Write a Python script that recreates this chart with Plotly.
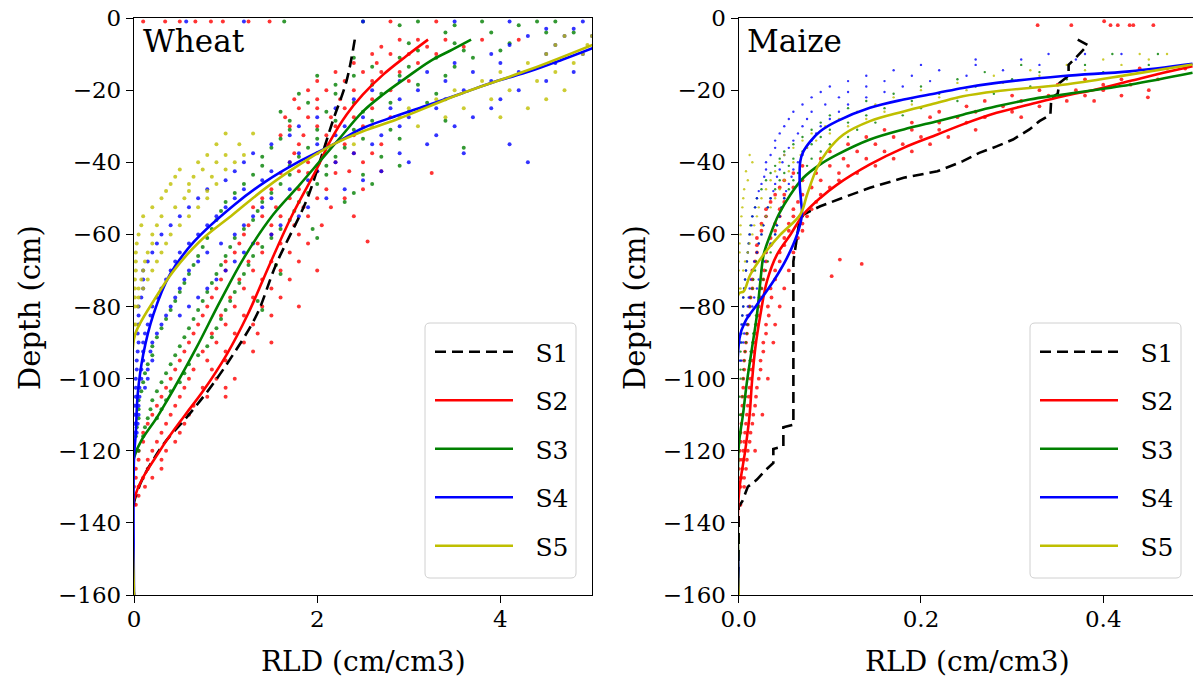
import plotly.graph_objects as go

FONT = "DejaVu Serif"
RED, GREEN, BLUE, OLIVE, BLACK = "#ff0000", "#008000", "#0000ff", "#bfbf00", "#000000"

# ---------------- Wheat: fitted profiles (depth cm, RLD cm/cm3) ----------------
wheat_s1_depth = [-6, -17.5, -28.6, -39.7, -50.8, -68.4, -82.3, -93.4, -102.6, -110, -119.7, -134.4, -160]
wheat_s1_rld = [2.41, 2.32, 2.17, 2.03, 1.88, 1.55, 1.34, 1.08, 0.83, 0.6, 0.28, 0.0, 0.0]
wheat_s2_depth = [-6, -10.6, -15.7, -21.2, -26.8, -34.2, -41.6, -54.5, -68.4, -82.3, -93.4, -103.6, -110, -119.7, -133.6, -160]
wheat_s2_rld = [3.21, 2.97, 2.72, 2.50, 2.32, 2.14, 2.0, 1.73, 1.48, 1.24, 1.01, 0.75, 0.56, 0.29, 0.0, 0.0]
wheat_s3_depth = [-6, -8.7, -12, -16.6, -21.2, -25.9, -33.2, -39.7, -46.2, -54.5, -66.5, -78.6, -91.5, -102.6, -110, -122, -160]
wheat_s3_rld = [3.68, 3.48, 3.23, 2.97, 2.72, 2.50, 2.25, 2.03, 1.81, 1.52, 1.20, 0.94, 0.68, 0.44, 0.27, 0.0, 0.0]
wheat_s4_depth = [-8.3, -11.5, -14.8, -17.5, -20.8, -24, -27.2, -30.5, -35.1, -39.7, -45.3, -51.7, -61.9, -71.2, -82.3, -93.4, -104.5, -115, -122, -160]
wheat_s4_rld = [5.01, 4.68, 4.32, 3.96, 3.59, 3.23, 2.86, 2.50, 2.17, 1.81, 1.44, 1.10, 0.66, 0.39, 0.21, 0.10, 0.04, 0.02, 0.0, 0.0]
wheat_s5_depth = [-7.4, -14.3, -20.8, -28.2, -31.4, -35.1, -40.6, -47.1, -54.5, -61.9, -70.2, -78.6, -85, -89, -160]
wheat_s5_rld = [5.01, 4.32, 3.59, 2.86, 2.50, 2.17, 1.81, 1.44, 1.08, 0.72, 0.43, 0.21, 0.06, 0.0, 0.0]

# ---------------- Maize: fitted profiles ----------------
maize_s1_depth = [-6, -7.5, -11, -13, -16, -18, -21, -22.1, -26.8, -28.6, -30.9, -33.7, -35.6, -37.4, -39.7, -42.5,
                  -44.3, -47.1, -49.4, -52.2, -54.5, -57.3, -67.5, -112.8, -113.5, -118.8, -119.5, -123.4, -125.5,
                  -128, -130, -134, -135.5, -160]
maize_s1_rld = [0.372, 0.383, 0.370, 0.362, 0.362, 0.352, 0.350, 0.343, 0.342, 0.330, 0.319, 0.301, 0.283, 0.264,
                0.246, 0.218, 0.181, 0.144, 0.119, 0.0895, 0.071, 0.066, 0.060, 0.060, 0.049, 0.049, 0.038, 0.038,
                0.029, 0.020, 0.010, 0.004, 0.0, 0.0]
maize_s2_depth = [-13.4, -15.2, -17.5, -19.8, -21.7, -24, -26.3, -29.5, -32.3, -36, -40.6, -46.2, -49.9, -54.5, -60.1,
                  -65.6, -73, -82.3, -91.5, -100.8, -110, -119.7, -132.7, -160]
maize_s2_rld = [0.498, 0.466, 0.429, 0.392, 0.356, 0.319, 0.283, 0.246, 0.218, 0.181, 0.144, 0.108, 0.0895, 0.071,
                0.0567, 0.042, 0.031, 0.0238, 0.0182, 0.0146, 0.012, 0.0073, 0.0, 0.0]
maize_s3_depth = [-15.2, -18.5, -21.2, -22.6, -24.5, -26.8, -28.6, -30.9, -33.7, -37.9, -40.6, -44.3, -49, -54.5, -60.1,
                  -65.6, -73, -82.3, -91.5, -100.8, -110, -119, -160]
maize_s3_rld = [0.498, 0.429, 0.356, 0.319, 0.283, 0.246, 0.218, 0.181, 0.144, 0.108, 0.0895, 0.071, 0.0567, 0.0439,
                0.0347, 0.0274, 0.0238, 0.020, 0.0146, 0.0091, 0.0047, 0.0, 0.0]
maize_s4_depth = [-12.7, -14.8, -16.1, -18, -19.4, -20.8, -22.6, -24.9, -28.6, -31.4, -34.2, -37, -39.7, -45.3, -50.8,
                  -54.5, -60.1, -66.5, -73, -79.5, -84.1, -88.7, -160]
maize_s4_rld = [0.498, 0.429, 0.356, 0.283, 0.246, 0.218, 0.181, 0.144, 0.108, 0.0895, 0.0786, 0.071, 0.0676, 0.0669,
                0.0684, 0.0694, 0.064, 0.053, 0.038, 0.020, 0.0073, 0.001, 0.0]
maize_s5_depth = [-12.9, -15.7, -18.5, -20.3, -21.7, -23.5, -25.9, -28.6, -32.3, -37, -41.6, -49, -54.5, -60.1, -65.6,
                  -71.2, -75.8, -76.5, -160]
maize_s5_rld = [0.498, 0.429, 0.356, 0.283, 0.246, 0.218, 0.181, 0.144, 0.115, 0.0969, 0.0859, 0.075, 0.0676, 0.0457,
                0.0274, 0.0127, 0.0055, 0.0, 0.0]

# ---------------- Observations (depth, RLD values read at that depth) ----------------
wheat_s2_obs = [
    (-1, [0.1, 0.34, 0.5, 0.67, 0.84, 0.97, 1.25, 1.48, 2.8, 3.3]), (-6, [2.9, 3.1, 3.4, 3.8, 4.2]),
    (-8, [2.7, 3.2, 3.6]), (-10, [2.6, 2.8, 3.0, 3.3]), (-12.5, [2.4, 2.65, 3.1]), (-15, [2.2, 2.5, 2.7, 2.9]),
    (-17.5, [2.0, 2.3, 2.6, 3.0]), (-20, [1.9, 2.1, 2.4, 2.8]), (-22.5, [1.75, 2.0, 2.25, 2.6]),
    (-25, [1.8, 2.0, 2.3, 2.6]), (-27.5, [1.65, 1.9, 2.15, 2.4, 2.8]), (-30, [1.7, 2.0, 2.2, 2.5]),
    (-32.5, [1.6, 1.85, 2.1, 2.4]), (-35, [1.8, 2.1, 2.3, 2.7]), (-37.5, [1.75, 2.0, 2.4, 2.6]),
    (-40, [1.7, 1.9, 2.2, 2.5]), (-42.5, [1.8, 2.0, 2.35, 2.7]), (-43, [1.6, 1.9, 2.2, 3.25]),
    (-47.5, [1.5, 1.8, 2.1, 2.5]), (-50, [1.4, 1.7, 2.0, 2.3]), (-52.5, [1.3, 1.55, 1.85, 2.15]),
    (-55, [1.4, 1.6, 1.9, 2.4]), (-57.5, [1.25, 1.5, 1.75, 2.05]), (-60, [1.2, 1.5, 1.8]), (-62, [2.55]),
    (-62.5, [1.15, 1.35, 1.6, 1.9]), (-65, [1.1, 1.4, 1.7]), (-67.5, [1.0, 1.25, 1.5, 1.8]),
    (-70, [1.0, 1.3, 1.6, 2.0]), (-72.5, [0.95, 1.15, 1.4, 1.7]), (-75, [0.9, 1.2, 1.5]),
    (-77.5, [0.85, 1.05, 1.3, 1.6]), (-80, [0.8, 1.1, 1.4, 1.8]), (-82.5, [0.75, 0.95, 1.2, 1.5]),
    (-85, [0.7, 1.0, 1.3]), (-87.5, [0.65, 0.85, 1.1, 1.35]), (-90, [0.6, 0.9, 1.2, 1.5]),
    (-92.5, [0.55, 0.75, 1.0, 1.3]), (-95, [0.5, 0.8, 1.0]), (-97.5, [0.45, 0.65, 0.85]),
    (-100, [0.4, 0.6, 0.9, 1.1]), (-102.5, [0.35, 0.55, 0.75, 1.0]), (-105, [0.3, 0.5, 0.8, 1.0]),
    (-107.5, [0.25, 0.45, 0.65]), (-110, [0.2, 0.4, 0.6]), (-112.5, [0.15, 0.35, 0.55]), (-115, [0.1, 0.3, 0.5]),
    (-117.5, [0.1, 0.25, 0.45]), (-120, [0.05, 0.2, 0.35]), (-122.5, [0.05, 0.15, 0.3]), (-125, [0.02, 0.15, 0.3]),
    (-127.5, [0.02, 0.1, 0.2]), (-130, [0.0, 0.05, 0.12]), (-132.5, [0.0, 0.05]), (-135, [0.0, 0.02]),
]
wheat_s3_obs = [
    (-1, [1.64, 2.5, 3.1, 3.8, 4.4, 4.6]), (-2, [2.9, 3.5, 4.2]), (-4, [3.4, 3.9, 4.5, 4.8]), (-7, [3.0, 3.5, 4.1]),
    (-9, [3.1, 3.6, 4.0]), (-11, [2.4, 2.9, 3.3, 3.7]), (-13.5, [2.6, 3.0, 3.5]), (-16, [2.0, 2.4, 2.9, 3.4]),
    (-18.5, [2.2, 2.6, 3.1]), (-21, [1.8, 2.2, 2.7, 3.3]), (-23.5, [1.9, 2.4, 2.8, 3.2]),
    (-26, [1.6, 2.1, 2.5, 3.0]), (-28.5, [1.7, 2.2, 2.6, 3.4]), (-31, [1.7, 2.0, 2.4, 2.8]),
    (-33.5, [1.6, 2.0, 2.5, 2.9]), (-36, [1.5, 1.9, 2.3, 3.6]), (-38.5, [1.4, 1.8, 2.2, 2.7]),
    (-41, [1.4, 1.7, 2.1, 2.9]), (-43.5, [1.3, 1.7, 2.1, 2.5]), (-46, [1.2, 1.6, 2.0, 2.6]),
    (-48.5, [1.1, 1.5, 1.9, 2.4]), (-51, [1.0, 1.4, 1.8, 2.3]), (-53.5, [0.95, 1.35, 1.75]), (-56, [0.9, 1.3, 1.7]),
    (-58.5, [0.85, 1.2, 1.6, 1.95]), (-61, [0.8, 1.1, 1.5, 2.0]), (-63.5, [0.75, 1.05, 1.4]), (-66, [0.7, 1.0, 1.3]),
    (-68.5, [0.65, 0.95, 1.25, 1.55]), (-71, [0.6, 0.9, 1.2, 1.6]), (-73.5, [0.55, 0.85, 1.15]),
    (-76, [0.5, 0.8, 1.1]), (-78.5, [0.45, 0.75, 1.05, 1.35]), (-81, [0.4, 0.7, 1.0, 1.4]),
    (-83.5, [0.35, 0.65, 0.95]), (-86, [0.3, 0.6, 0.9]), (-88.5, [0.25, 0.55, 0.85]), (-91, [0.2, 0.5, 0.8]),
    (-93.5, [0.2, 0.45, 0.7]), (-96, [0.15, 0.4, 0.6]), (-98.5, [0.12, 0.35, 0.55]), (-101, [0.1, 0.3, 0.5]),
    (-103.5, [0.08, 0.25, 0.4]), (-106, [0.05, 0.2, 0.35]), (-108.5, [0.05, 0.18, 0.3]), (-111, [0.05, 0.15, 0.25]),
    (-113.5, [0.03, 0.12]), (-116, [0.02, 0.1]), (-120, [0.0, 0.05]),
]
wheat_s4_obs = [
    (-1, [0.57, 1.2, 2.5, 3.5, 4.1, 4.9]), (-3, [4.5, 4.8]), (-5, [4.3, 4.7, 5.0]), (-7.5, [4.1, 4.6]),
    (-10, [3.9, 4.5, 4.9]), (-12.5, [3.5, 4.0, 4.6]), (-15, [3.2, 3.7, 4.2, 4.8]), (-17.5, [2.9, 3.4, 3.9, 4.5]),
    (-20, [2.6, 3.1, 3.6, 4.2]), (-22.5, [2.4, 2.9, 3.4, 4.0]), (-25, [2.2, 2.8, 3.3, 3.9]),
    (-27.5, [2.0, 2.5, 3.0, 3.7]), (-30, [1.8, 2.3, 2.9, 3.5]), (-32.5, [1.7, 2.2, 2.7, 3.3]),
    (-35, [1.5, 2.0, 2.6, 3.2, 4.1]), (-37.5, [1.3, 1.8, 2.4, 2.9, 3.6]), (-40, [1.2, 1.7, 2.2, 3.0, 4.3]),
    (-42.5, [1.1, 1.5, 2.0, 2.7]), (-45, [1.0, 1.4, 1.9, 2.5]), (-47.5, [0.8, 1.2, 1.7, 2.3]),
    (-50, [0.7, 1.1, 1.5, 2.1]), (-52.5, [0.6, 1.0, 1.4, 1.9]), (-55, [0.5, 0.9, 1.3, 1.8]),
    (-57.5, [0.4, 0.8, 1.2, 1.6]), (-60, [0.3, 0.7, 1.1, 1.5]), (-62.5, [0.25, 0.6, 0.95, 1.3]),
    (-65, [0.2, 0.5, 0.8, 1.2]), (-67.5, [0.15, 0.45, 0.7, 1.1]), (-70, [0.1, 0.4, 0.6, 1.0]),
    (-72.5, [0.1, 0.35, 0.55, 0.9]), (-75, [0.1, 0.3, 0.5, 0.8]), (-77.5, [0.08, 0.25, 0.45, 0.7]),
    (-80, [0.05, 0.2, 0.4, 0.6]), (-82.5, [0.05, 0.18, 0.35, 0.5]), (-85, [0.05, 0.15, 0.3]),
    (-87.5, [0.04, 0.12, 0.25]), (-90, [0.05, 0.1, 0.2]), (-92.5, [0.04, 0.1, 0.18]), (-95, [0.03, 0.1, 0.2]),
    (-97.5, [0.03, 0.08, 0.15]), (-100, [0.02, 0.08, 0.15]), (-102.5, [0.02, 0.06, 0.12]), (-105, [0.02, 0.06]),
    (-107.5, [0.01, 0.05]), (-110, [0.01, 0.05]), (-112.5, [0.01, 0.04]), (-115, [0.01, 0.03]),
]
wheat_s5_obs = [
    (-5, [4.7, 5.0]), (-7.5, [4.6, 4.95]), (-10, [4.5, 4.9]), (-12.5, [4.3, 4.8]), (-15, [4.0, 4.6]),
    (-17.5, [3.8, 4.4]), (-20, [3.5, 4.1, 4.7]), (-22.5, [3.3, 3.9, 4.5]), (-25, [3.0, 3.6, 4.3]),
    (-27.5, [2.9, 3.4, 4.0]), (-30, [2.6, 3.1]), (-32, [1.0, 1.3]), (-35, [0.9, 1.15, 2.4]), (-38, [0.8, 1.0, 1.2]),
    (-40, [0.7, 0.9, 1.1]), (-42, [0.5, 0.75, 1.0]), (-44, [0.45, 0.65, 0.85]), (-46, [0.4, 0.6, 0.9]),
    (-48, [0.35, 0.6, 0.8]), (-50, [0.3, 0.55, 0.8]), (-52.5, [0.2, 0.45, 0.7]), (-55, [0.1, 0.3, 0.6]),
    (-57.5, [0.08, 0.25, 0.5]), (-60, [0.05, 0.2, 0.4]), (-62.5, [0.03, 0.2, 0.35]), (-65, [0.02, 0.15, 0.3]),
    (-67.5, [0.02, 0.12, 0.25]), (-70, [0.02, 0.1, 0.2]), (-72.5, [0.01, 0.08, 0.15]), (-75, [0.01, 0.05, 0.1]),
    (-77.5, [0.01, 0.05]), (-80, [0.01, 0.04]), (-85, [0.0, 0.02]),
]
maize_s2_obs = [
    (-0.9, [0.401]), (-2, [0.328, 0.365, 0.408, 0.416, 0.429, 0.433, 0.455]), (-14, [0.44, 0.47, 0.49]),
    (-17, [0.38, 0.42, 0.46]), (-18.5, [0.35, 0.40, 0.43]), (-20, [0.33, 0.37, 0.40, 0.45]),
    (-21.5, [0.30, 0.34, 0.38, 0.42]), (-22, [0.449]), (-23, [0.27, 0.31, 0.36, 0.39]),
    (-24.5, [0.25, 0.29, 0.33]), (-26, [0.22, 0.26, 0.30]), (-27.5, [0.21, 0.24, 0.27, 0.31]),
    (-29, [0.19, 0.22, 0.25]), (-31, [0.16, 0.19, 0.22, 0.26]), (-33, [0.14, 0.17, 0.20, 0.23]),
    (-35, [0.12, 0.15, 0.18, 0.21]), (-37, [0.10, 0.13, 0.16, 0.19]), (-39, [0.09, 0.115, 0.14, 0.17]),
    (-41, [0.07, 0.10, 0.12, 0.15]), (-43, [0.06, 0.085, 0.11, 0.13]), (-45, [0.05, 0.07, 0.09, 0.11]),
    (-47, [0.045, 0.06, 0.08, 0.1]), (-49, [0.04, 0.05, 0.07, 0.09]), (-51, [0.035, 0.05, 0.065, 0.085]),
    (-53, [0.03, 0.045, 0.06, 0.08]), (-55, [0.03, 0.045, 0.06, 0.075]), (-57, [0.025, 0.04, 0.055, 0.07]),
    (-59, [0.025, 0.04, 0.055, 0.07]), (-61, [0.02, 0.035, 0.05, 0.065]), (-63, [0.02, 0.035, 0.05]),
    (-65, [0.02, 0.03, 0.045, 0.06]), (-67, [0.111]), (-67.5, [0.018, 0.03, 0.045]), (-68.2, [0.135]),
    (-70, [0.015, 0.028, 0.04, 0.055]), (-71.6, [0.102]), (-72.5, [0.015, 0.027, 0.04]),
    (-75, [0.015, 0.025, 0.035, 0.05]), (-77.5, [0.013, 0.024, 0.036]), (-80, [0.012, 0.022, 0.032, 0.045]),
    (-82.5, [0.011, 0.021, 0.033]), (-85, [0.01, 0.02, 0.03, 0.04]), (-87.5, [0.009, 0.019, 0.03]),
    (-90, [0.008, 0.018, 0.027, 0.038]), (-92.5, [0.007, 0.016, 0.027]), (-95, [0.006, 0.015, 0.024]),
    (-97.5, [0.006, 0.014, 0.024]), (-100, [0.005, 0.013, 0.022, 0.032]), (-102.5, [0.005, 0.012, 0.02]),
    (-105, [0.004, 0.011, 0.019]), (-107.5, [0.004, 0.01, 0.018]), (-110, [0.003, 0.009, 0.016, 0.026]),
    (-112.5, [0.003, 0.008, 0.015]), (-115, [0.002, 0.007, 0.013]), (-117.5, [0.002, 0.006, 0.012]),
    (-120, [0.001, 0.005, 0.01, 0.018]), (-122.5, [0.001, 0.004, 0.009]), (-125, [0.0, 0.004, 0.008]),
    (-127.5, [0.0, 0.003, 0.006]), (-130, [0.0, 0.002, 0.006]), (-135, [0.0, 0.002]),
]
maize_s3_obs = [
    (-10, [0.41, 0.46]), (-13, [0.31, 0.38, 0.45]), (-15, [0.27, 0.33, 0.4]), (-17, [0.24, 0.30, 0.36]),
    (-19, [0.2, 0.26, 0.32]), (-21, [0.17, 0.22, 0.28]), (-23, [0.14, 0.19, 0.24]), (-25, [0.12, 0.16, 0.20]),
    (-27, [0.1, 0.14, 0.18]), (-29, [0.09, 0.12, 0.15]), (-31, [0.08, 0.1, 0.13]), (-33, [0.07, 0.09, 0.12]),
    (-35, [0.06, 0.08, 0.1]), (-37, [0.05, 0.07, 0.09]), (-39, [0.045, 0.06, 0.08]), (-41, [0.04, 0.055, 0.075]),
    (-43, [0.035, 0.05, 0.065]), (-45, [0.03, 0.045, 0.06]), (-47.5, [0.025, 0.04, 0.055]),
    (-50, [0.02, 0.035, 0.05]), (-52.5, [0.018, 0.032, 0.047]), (-55, [0.015, 0.03, 0.045]),
    (-57.5, [0.013, 0.027, 0.042]), (-60, [0.012, 0.025, 0.04]), (-62.5, [0.011, 0.022, 0.037]),
    (-65, [0.01, 0.02, 0.035]), (-67.5, [0.009, 0.019, 0.032]), (-70, [0.008, 0.018, 0.03]),
    (-72.5, [0.007, 0.016, 0.027]), (-75, [0.006, 0.015, 0.025]), (-77.5, [0.005, 0.013, 0.022]),
    (-80, [0.005, 0.012, 0.02]), (-82.5, [0.004, 0.011, 0.019]), (-85, [0.004, 0.01, 0.018]),
    (-87.5, [0.003, 0.009, 0.016]), (-90, [0.003, 0.008, 0.015]), (-92.5, [0.002, 0.007, 0.013]),
    (-95, [0.002, 0.006, 0.012]), (-97.5, [0.002, 0.005, 0.011]), (-100, [0.002, 0.005, 0.01]),
    (-105, [0.001, 0.004, 0.008]), (-110, [0.001, 0.003]), (-115, [0.0, 0.002]),
]
maize_s4_obs = [
    (-10, [0.34, 0.38, 0.42]), (-11.5, [0.26, 0.31, 0.37]), (-13, [0.20, 0.26, 0.33]), (-14.5, [0.17, 0.22, 0.29]),
    (-16, [0.14, 0.19, 0.25]), (-17.5, [0.12, 0.16, 0.21]), (-19, [0.10, 0.14, 0.18]), (-20.5, [0.09, 0.12, 0.16]),
    (-22, [0.08, 0.11, 0.14]), (-24, [0.07, 0.095, 0.12]), (-26, [0.06, 0.08, 0.11]), (-28, [0.055, 0.075, 0.1]),
    (-30, [0.05, 0.07, 0.09]), (-32, [0.045, 0.065, 0.085]), (-34, [0.04, 0.06, 0.08]), (-36, [0.04, 0.055, 0.075]),
    (-38, [0.035, 0.05, 0.07]), (-40, [0.03, 0.048, 0.065]), (-42, [0.03, 0.045, 0.06]),
    (-44, [0.028, 0.042, 0.058]), (-46, [0.025, 0.04, 0.055]), (-48, [0.022, 0.038, 0.052]),
    (-50, [0.02, 0.035, 0.05]), (-52.5, [0.018, 0.032, 0.047]), (-55, [0.015, 0.03, 0.045]),
    (-57.5, [0.014, 0.027, 0.042]), (-60, [0.012, 0.025, 0.04]), (-62.5, [0.011, 0.022, 0.035]),
    (-65, [0.01, 0.02, 0.03]), (-67.5, [0.009, 0.017, 0.028]), (-70, [0.008, 0.015, 0.025]),
    (-72.5, [0.007, 0.013, 0.022]), (-75, [0.006, 0.012, 0.02]), (-77.5, [0.005, 0.011, 0.017]),
    (-80, [0.005, 0.01, 0.015]), (-82.5, [0.004, 0.009]), (-85, [0.003, 0.008]), (-87.5, [0.002, 0.006]),
    (-90, [0.002, 0.005]), (-95, [0.001, 0.003]),
]
maize_s5_obs = [
    (-10, [0.44, 0.47]), (-11.5, [0.4, 0.45]), (-13, [0.36, 0.42]), (-14.5, [0.32, 0.38]), (-16, [0.28, 0.33]),
    (-18, [0.24, 0.29]), (-20, [0.20, 0.25]), (-22, [0.17, 0.22]), (-24, [0.15, 0.19]), (-26, [0.13, 0.16]),
    (-28, [0.11, 0.14]), (-30, [0.095, 0.12]), (-32, [0.08, 0.1]), (-34, [0.07, 0.085]), (-36, [0.06, 0.075]),
    (-38, [0.012, 0.05, 0.068]), (-40, [0.015, 0.045, 0.06]), (-42.5, [0.008, 0.04, 0.055]),
    (-45, [0.01, 0.035, 0.05]), (-47.5, [0.006, 0.03, 0.045]), (-50, [0.005, 0.025, 0.04]),
    (-52.5, [0.004, 0.022, 0.035]), (-55, [0.003, 0.02, 0.03]), (-57.5, [0.002, 0.017, 0.025]),
    (-60, [0.002, 0.015]), (-62.5, [0.001, 0.012]), (-65, [0.001, 0.01]), (-67.5, [0.0, 0.007]),
    (-70, [0.0, 0.005]), (-75, [0.0, 0.002]),
]


def expand(rows):
    xs, ys = [], []
    for d, vals in rows:
        for v in vals:
            xs.append(v)
            ys.append(d)
    return xs, ys


W, H, MT, MB = 1193, 682, 18, 87
PLOT_H = H - MT - MB
BOTTOM = H - MB


def px_x(x):
    return x / W


def px_y(y):
    return (BOTTOM - y) / PLOT_H


def rounded_box(x0, y0, x1, y1, r=5):
    X, Y = px_x, px_y
    return (f"M {X(x0 + r)},{Y(y0)} L {X(x1 - r)},{Y(y0)} Q {X(x1)},{Y(y0)} {X(x1)},{Y(y0 + r)} "
            f"L {X(x1)},{Y(y1 - r)} Q {X(x1)},{Y(y1)} {X(x1 - r)},{Y(y1)} "
            f"L {X(x0 + r)},{Y(y1)} Q {X(x0)},{Y(y1)} {X(x0)},{Y(y1 - r)} "
            f"L {X(x0)},{Y(y0 + r)} Q {X(x0)},{Y(y0)} {X(x0 + r)},{Y(y0)} Z")


fig = go.Figure()

# observation clouds
for rows, col, ax, size in [
    (wheat_s2_obs, RED, 1, 4), (wheat_s3_obs, GREEN, 1, 4), (wheat_s4_obs, BLUE, 1, 4), (wheat_s5_obs, OLIVE, 1, 4),
    (maize_s2_obs, RED, 2, 3.8), (maize_s3_obs, GREEN, 2, 2.4), (maize_s4_obs, BLUE, 2, 2.4), (maize_s5_obs, OLIVE, 2, 2.4),
]:
    xs, ys = expand(rows)
    fig.add_trace(go.Scatter(
        x=xs, y=ys, mode="markers", showlegend=False, hoverinfo="skip",
        marker=dict(color=col, size=size, opacity=0.8, line=dict(width=0)),
        xaxis="x" if ax == 1 else "x2", yaxis="y" if ax == 1 else "y2"))

# fitted lines
series = [
    ("S1", BLACK, "11px,6px", wheat_s1_rld, wheat_s1_depth, maize_s1_rld, maize_s1_depth),
    ("S2", RED, "solid", wheat_s2_rld, wheat_s2_depth, maize_s2_rld, maize_s2_depth),
    ("S3", GREEN, "solid", wheat_s3_rld, wheat_s3_depth, maize_s3_rld, maize_s3_depth),
    ("S4", BLUE, "solid", wheat_s4_rld, wheat_s4_depth, maize_s4_rld, maize_s4_depth),
    ("S5", OLIVE, "solid", wheat_s5_rld, wheat_s5_depth, maize_s5_rld, maize_s5_depth),
]
for name, col, dash, wx, wy, mx, my in series:
    label = "\u2002\u2009" + name
    fig.add_trace(go.Scatter(x=wx, y=wy, mode="lines", name=label, legend="legend", legendgroup="w" + name,
                             line=dict(color=col, width=2.6, dash=dash, shape="spline", smoothing=1.0),
                             xaxis="x", yaxis="y"))
    mshape = "linear" if name == "S1" else "spline"
    fig.add_trace(go.Scatter(x=mx, y=my, mode="lines", name=label, legend="legend2", legendgroup="m" + name,
                             line=dict(color=col, width=2.6, dash=dash, shape=mshape),
                             xaxis="x2", yaxis="y2"))

axis_common = dict(showline=True, linecolor="black", linewidth=1.3, ticks="outside", ticklen=7, tickwidth=1.2,
                   tickcolor="black", showgrid=False, zeroline=False, automargin=False,
                   tickfont=dict(family=FONT, size=23, color="black"))

L0, L1 = 134 / W, 592 / W
R0, R1 = 738.7 / W, 1.0

legend_common = dict(font=dict(family=FONT, size=25, color="black"), bgcolor="rgba(0,0,0,0)",
                     borderwidth=0, xanchor="left", yanchor="top", tracegroupgap=13, itemwidth=78,
                     traceorder="grouped")

fig.update_layout(
    width=W, height=H, margin=dict(l=0, r=0, t=MT, b=MB, autoexpand=False),
    paper_bgcolor="white", plot_bgcolor="white",
    xaxis=dict(domain=[L0, L1], range=[0, 5], tickvals=[0, 2, 4], mirror=True, anchor="y",
               ticklabelstandoff=-4, **axis_common),
    yaxis=dict(domain=[0, 1], range=[-160, 0], tickvals=list(range(-160, 1, 20)), mirror=True, anchor="x",
               **axis_common),
    xaxis2=dict(domain=[R0, R1], range=[0, 0.4985], tickvals=[0.0, 0.2, 0.4], tickformat=".1f", mirror=True,
                anchor="y2", ticklabelstandoff=-4, **axis_common),
    yaxis2=dict(domain=[0, 1], range=[-160, 0], tickvals=list(range(-160, 1, 20)), mirror=False, anchor="x2",
                **axis_common),
    legend=dict(x=px_x(430), y=px_y(329), **legend_common),
    legend2=dict(x=px_x(1035), y=px_y(329), **legend_common),
    showlegend=True,
    shapes=[
        dict(type="path", xref="paper", yref="paper", path=rounded_box(425, 323, 576, 578), fillcolor="white",
             line=dict(color="#d0d0d0", width=1), layer="above"),
        dict(type="path", xref="paper", yref="paper", path=rounded_box(1030, 323, 1181, 578), fillcolor="white",
             line=dict(color="#d0d0d0", width=1), layer="above"),
    ],
)

ann_font = dict(family=FONT, color="black")
fig.add_annotation(text="Wheat", x=px_x(141), y=px_y(21), xref="paper", yref="paper", xanchor="left",
                   yanchor="top", showarrow=False, font=dict(size=31, **ann_font))
fig.add_annotation(text="Maize", x=px_x(745), y=px_y(21), xref="paper", yref="paper", xanchor="left",
                   yanchor="top", showarrow=False, font=dict(size=31, **ann_font))
for xc in [(134 + 592) / 2, (738.7 + 1196) / 2]:
    fig.add_annotation(text="RLD (cm/cm3)", x=px_x(xc), y=px_y(661), xref="paper", yref="paper",
                       xanchor="center", yanchor="middle", showarrow=False, font=dict(size=28, **ann_font))
for xc in [30, 635]:
    fig.add_annotation(text="Depth (cm)", x=px_x(xc), y=px_y(308), xref="paper", yref="paper",
                       xanchor="center", yanchor="middle", textangle=-90, showarrow=False,
                       font=dict(size=29, **ann_font))

fig.write_html("out.html", config={"displayModeBar": False},
               post_script="document.body.style.margin='0';")
